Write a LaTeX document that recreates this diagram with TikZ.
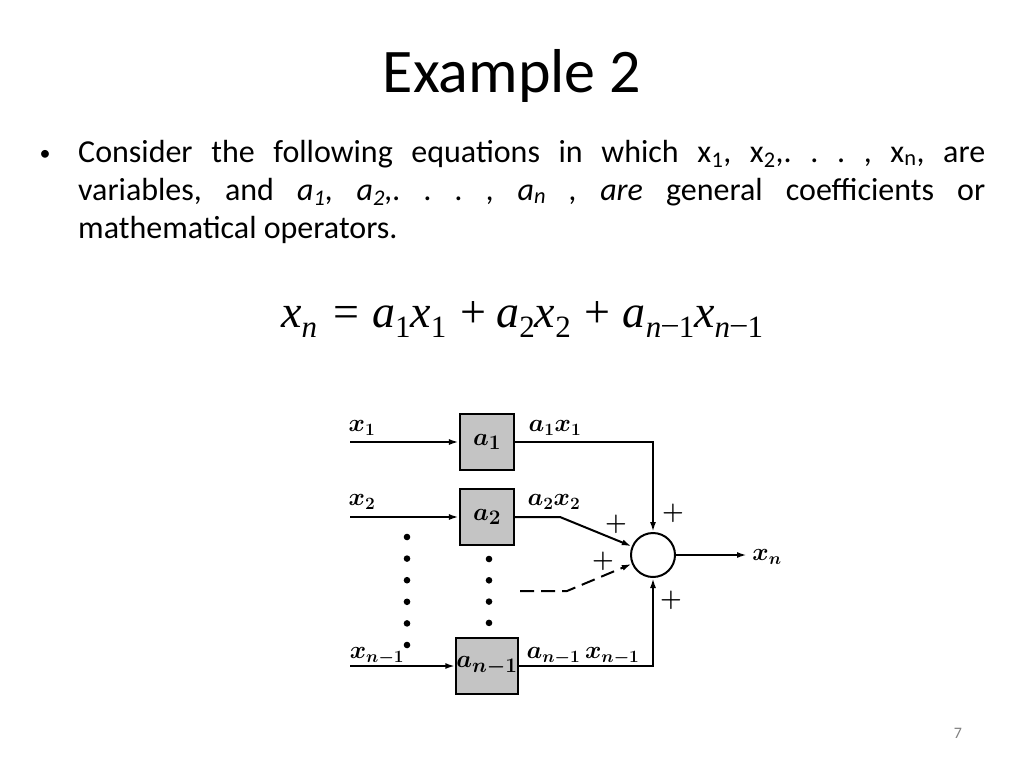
\documentclass[tikz,border=0pt]{standalone}
\usepackage[no-math]{fontspec}
\setmainfont{Carlito}
\newfontfamily\eqfont{Liberation Serif}
\usetikzlibrary{arrows.meta,positioning}
\frenchspacing
\newcommand\eqsub[1]{\raisebox{-0.22em}{\fontsize{31}{33}\selectfont #1}}
\tikzset{
  gainbox/.style={draw,line width=2.2pt,fill=black!23,minimum width=54pt,minimum height=56pt,inner sep=0pt,font=\fontsize{24.88}{30}\selectfont\boldmath},
  sumnode/.style={draw,circle,line width=2pt,minimum size=44pt,inner sep=0pt},
  sig/.style={line width=2pt},
  lbl/.style={font=\fontsize{24}{28}\selectfont\boldmath,inner sep=0pt},
  pls/.style={font=\fontsize{24.88}{28}\selectfont\boldmath,inner sep=0pt},
  bodytext/.style={anchor=base west,inner sep=0pt,font=\fontsize{32}{38}\selectfont},
  >={Latex[length=10pt,width=6pt]}
}
\begin{document}
\begin{tikzpicture}[x=1pt,y=-1pt]
    \fill[white] (0,0) rectangle (1024,768);
    \useasboundingbox (0,0) rectangle (1024,768);
    % slide text
    \node[anchor=base,inner sep=0pt,font=\fontsize{62}{68}\selectfont] (title) at (512,92) {Example 2};
    \node[anchor=base,inner sep=0pt,font=\fontsize{22}{26}\selectfont] (bullet) at (45,160) {•};
    \node[bodytext] (line1) at (78,162)
        {\makebox[907pt][s]{Consider the following equations in which x\textsubscript{1}, x\textsubscript{2},. . . , x\textsubscript{n}, are}};
    \node[bodytext] (line2) at (78,200)
        {\makebox[907pt][s]{variables, and \textit{a\textsubscript{1}, a\textsubscript{2},. . . , a\textsubscript{n} , are} general coefficients or}};
    \node[bodytext] (line3) at (78,238) {mathematical operators.};
    \node[anchor=base west,inner sep=0pt,font=\eqfont\fontsize{46}{50}\selectfont] (eq) at (281,327)
        {\textit{x}\eqsub{\textit{n}}\hspace{16pt}=\hspace{13pt}\textit{a}\eqsub{1}\textit{x}\eqsub{1}\hspace{14pt}+\hspace{10pt}\textit{a}\eqsub{2}\textit{x}\eqsub{2}\hspace{14pt}+\hspace{12pt}\textit{a}\eqsub{\textit{n}\hspace{1pt}\raisebox{0.12em}{\textendash}\hspace{1pt}1}\textit{x}\eqsub{\textit{n}\hspace{1pt}\raisebox{0.12em}{\textendash}\hspace{1pt}1}};
    \node[anchor=center,inner sep=0pt,font=\fontsize{16}{18}\selectfont,text=black!50] (page) at (958,733) {7};
    % block diagram
    \node[gainbox] (g1) at (487,442) {$a_1$};
    \node[gainbox] (g2) at (487,517) {$a_2$};
    \node[gainbox] (gn) at (487,666) {$a_{n-1}$};
    \node[sumnode] (sum) at (653,555) {};
    \coordinate (in1) at (350,442);
    \coordinate (in2) at (350,517);
    \coordinate (inn) at (350,666);
    \coordinate (bend2) at (560,517);
    \coordinate (dsh0) at (520,591);
    \coordinate (dsh1) at (567,591);
    \coordinate (out) at (747,555);
    \draw[sig,->] (in1) -- (g1);
    \draw[sig,->] (in2) -- (g2);
    \draw[sig,->] (inn) -- (gn);
    \draw[sig,->] (g1) -| (sum);
    \draw[sig,->] (g2.east) -- (bend2) -- (sum);
    \draw[sig,->] (gn) -| (sum);
    \draw[sig,->,dash pattern=on 14pt off 7pt] (dsh0) -- (dsh1) -- (sum);
    \draw[sig,->] (sum) -- (out);
    \node[lbl] (lx1) at (362,428) {$x_1$};
    \node[lbl] (lx2) at (362,502) {$x_2$};
    \node[lbl] (lxn) at (377,656) {$x_{n-1}$};
    \node[lbl] (ly1) at (555,428) {$a_1x_1$};
    \node[lbl] (ly2) at (554,502) {$a_2x_2$};
    \node[lbl] (lyn) at (583,656) {$a_{n-1}\,x_{n-1}$};
    \node[lbl] (lout) at (767,557) {$x_n$};
    \node[pls] (p1) at (673,513) {$+$};
    \node[pls] (p2) at (616,524) {$+$};
    \node[pls] (p3) at (603,561) {$+$};
    \node[pls] (p4) at (671,600) {$+$};
    \foreach \k in {0,...,5}
        \fill (407,537+21.6*\k) circle (3.3pt);
    \foreach \k in {0,...,3}
        \fill (489,559+21.3*\k) circle (3.3pt);
\end{tikzpicture}
\end{document}
